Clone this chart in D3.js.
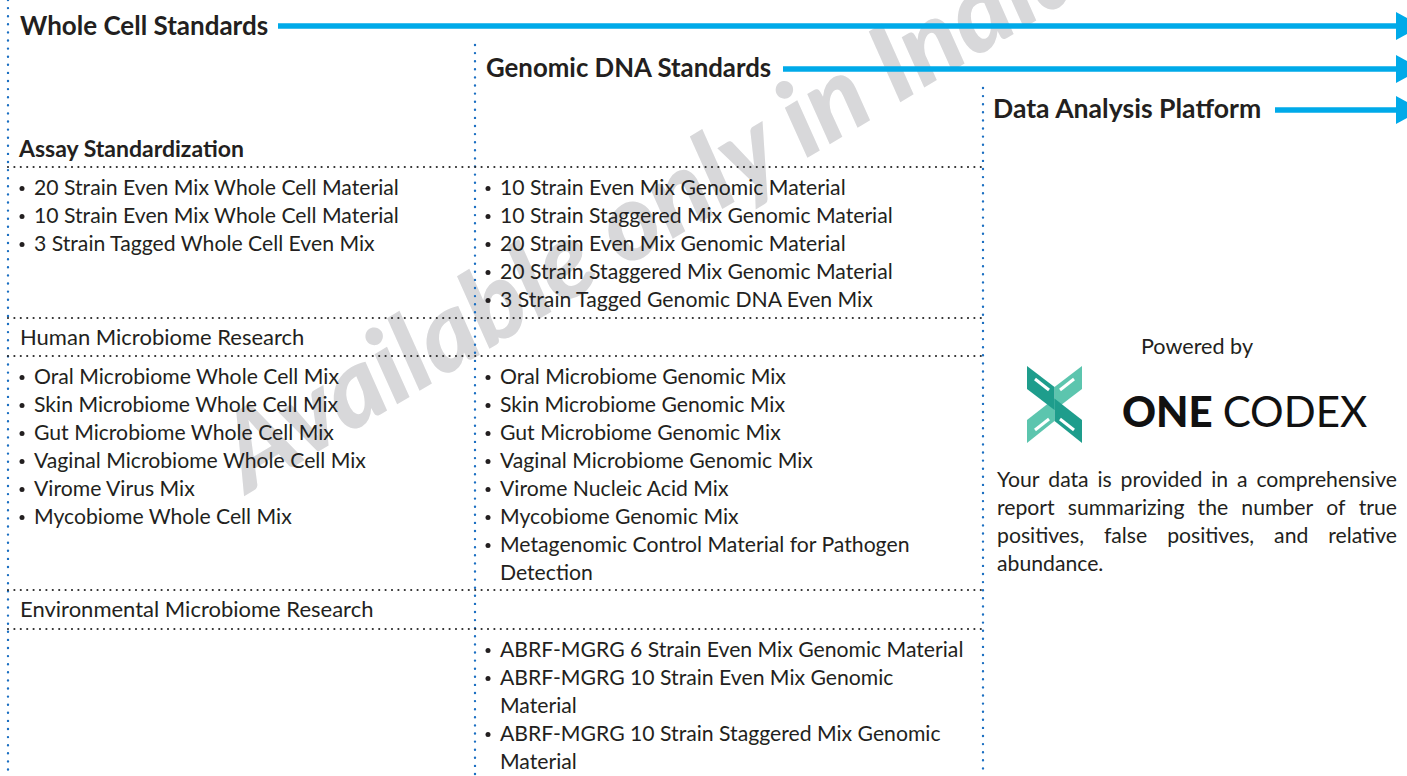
<!DOCTYPE html>
<html>
<head>
<meta charset="utf-8">
<script src="https://cdn.jsdelivr.net/npm/d3@7"></script>
<style>
  html, body { margin: 0; padding: 0; background: #fff; }
  svg { display: block; }
  text { font-family: Lato, "Noto Sans", sans-serif; }
</style>
</head>
<body>
<svg id="chart" width="1407" height="776"></svg>
<script>
// ---------- data ----------
const stageTitles = ["Whole Cell Standards", "Genomic DNA Standards", "Data Analysis Platform"];
const sectionTitles = ["Assay Standardization", "Human Microbiome Research", "Environmental Microbiome Research"];
const wholeCellAssay = ["20 Strain Even Mix Whole Cell Material", "10 Strain Even Mix Whole Cell Material", "3 Strain Tagged Whole Cell Even Mix"];
const genomicAssay = ["10 Strain Even Mix Genomic Material", "10 Strain Staggered Mix Genomic Material", "20 Strain Even Mix Genomic Material", "20 Strain Staggered Mix Genomic Material", "3 Strain Tagged Genomic DNA Even Mix"];
const wholeCellHuman = ["Oral Microbiome Whole Cell Mix", "Skin Microbiome Whole Cell Mix", "Gut Microbiome Whole Cell Mix", "Vaginal Microbiome Whole Cell Mix", "Virome Virus Mix", "Mycobiome Whole Cell Mix"];
const genomicHuman = [["Oral Microbiome Genomic Mix"], ["Skin Microbiome Genomic Mix"], ["Gut Microbiome Genomic Mix"], ["Vaginal Microbiome Genomic Mix"], ["Virome Nucleic Acid Mix"], ["Mycobiome Genomic Mix"], ["Metagenomic Control Material for Pathogen", "Detection"]];
const wholeCellEnv = [];
const genomicEnv = [["ABRF-MGRG 6 Strain Even Mix Genomic Material"], ["ABRF-MGRG 10 Strain Even Mix Genomic", "Material"], ["ABRF-MGRG 10 Strain Staggered Mix Genomic", "Material"]];
const poweredBy = "Powered by";
const logoWords = ["ONE", "CODEX"];
const reportLines = ["Your data is provided in a comprehensive", "report summarizing  the number of true", "positives, false positives, and relative", "abundance."];
const watermark = "Available only in India";

// ---------- layout ----------
const W = 1407, H = 776;
const svg = d3.select("#chart");
const colX = [8, 475, 983];
const stageY = [26, 69, 110];
const stageTop = [0, 45, 88];
const arrowStart = [278, 783, 1275];
const blue = "#00aae9";
const lineStep = 28;
const textColor = "#231f20";
const itemSize = 21.2;

// watermark (behind everything)
svg.append("text")
  .attr("transform", "translate(248,494) rotate(-31)")
  .attr("font-size", 106).attr("font-weight", 900).attr("font-style", "italic")
  .attr("fill", "#d8d8da")
  .text(watermark);

// vertical dotted blue lines
svg.selectAll("line.v").data(colX).join("line")
  .attr("x1", d => d).attr("x2", d => d)
  .attr("y1", (d, i) => stageTop[i]).attr("y2", H)
  .attr("stroke", "#1b6fc2").attr("stroke-width", 2.4)
  .attr("stroke-linecap", "round").attr("stroke-dasharray", "0,8.1");

// horizontal dotted dark lines
const hY = [167, 318, 356, 590, 629];
svg.selectAll("line.h").data(hY).join("line")
  .attr("x1", colX[0]).attr("x2", colX[2])
  .attr("y1", d => d).attr("y2", d => d)
  .attr("stroke", "#2a2a2a").attr("stroke-width", 2.2)
  .attr("stroke-linecap", "round").attr("stroke-dasharray", "0,6.4");

// stage titles and arrows
const titleX = [20, 486, 993];
const titleBase = [35, 77, 118];
const titleSize = [26, 25.8, 26.6];
stageTitles.forEach((t, i) => {
  svg.append("text").attr("x", titleX[i]).attr("y", titleBase[i])
    .attr("font-size", titleSize[i]).attr("font-weight", 700).attr("fill", textColor).text(t);
  svg.append("line").attr("x1", arrowStart[i]).attr("x2", 1400)
    .attr("y1", stageY[i]).attr("y2", stageY[i])
    .attr("stroke", blue).attr("stroke-width", 5.5);
  const y = stageY[i];
  svg.append("path").attr("d", `M1396,${y - 14} L1422,${y} L1396,${y + 14} Z`).attr("fill", blue);
});

// section headers
svg.append("text").attr("x", 19).attr("y", 157).attr("font-size", 23).attr("font-weight", 700)
  .attr("fill", textColor).text(sectionTitles[0]);
svg.append("text").attr("x", 20).attr("y", 345).attr("font-size", 22)
  .attr("fill", textColor).text(sectionTitles[1]);
svg.append("text").attr("x", 20).attr("y", 617).attr("font-size", 22)
  .attr("fill", textColor).text(sectionTitles[2]);

// bullet lists
function bulletList(items, x, y0) {
  const y = d3.scaleLinear().domain([0, 1]).range([y0, y0 + lineStep]);
  let line = 0;
  items.forEach(it => {
    const lines = Array.isArray(it) ? it : [it];
    svg.append("circle").attr("cx", x + 3).attr("cy", y(line) - 6.5).attr("r", 2.5).attr("fill", textColor);
    lines.forEach(l => {
      svg.append("text").attr("x", x + 15).attr("y", y(line))
        .attr("font-size", itemSize).attr("fill", textColor).text(l);
      line++;
    });
  });
}
bulletList(wholeCellAssay, 19, 195);
bulletList(genomicAssay, 485, 195);
bulletList(wholeCellHuman, 19, 384);
bulletList(genomicHuman, 485, 384);
bulletList(wholeCellEnv, 19, 657);
bulletList(genomicEnv, 485, 657);

// right column: powered by + logo
svg.append("text").attr("x", 1197).attr("y", 354).attr("text-anchor", "middle")
  .attr("font-size", 21.6).attr("fill", textColor).text(poweredBy);

const logo = svg.append("g").attr("transform", "translate(1027,366)");
const dark = "#1e9d8c", light = "#5cc5ae";
const lw = 55, lh = 77, mx = lw / 2;
const bands = [
  { p: [[0, lh - 23], [0, lh], [mx, lh - 22], [mx, lh / 2 - 6]], c: light },
  { p: [[lw, 0], [lw, 23], [mx, 44], [mx, 21]], c: light },
  { p: [[0, 0], [0, 23], [mx, 44], [mx, 21]], c: dark },
  { p: [[lw, lh - 23], [lw, lh], [mx, lh - 22], [mx, lh / 2 - 6]], c: dark }
];
logo.selectAll("path").data(bands).join("path")
  .attr("d", d => "M" + d.p.map(q => q.join(",")).join("L") + "Z").attr("fill", d => d.c);
const inner = [[8, 13, 22, 24], [47, 13, 33, 24], [8, 64, 22, 53], [47, 64, 33, 53]];
logo.selectAll("line").data(inner).join("line")
  .attr("x1", d => d[0]).attr("y1", d => d[1]).attr("x2", d => d[2]).attr("y2", d => d[3])
  .attr("stroke", "#fff").attr("stroke-width", 3);

const lt = svg.append("text").attr("x", 1122).attr("y", 427).attr("font-size", 42).attr("fill", "#111");
lt.append("tspan").attr("font-weight", 900).text(logoWords[0] + " ");
lt.append("tspan").attr("font-weight", 400).text(logoWords[1]);

// justified paragraph
const pLeft = 997, pRight = 1397;
reportLines.forEach((ln, i) => {
  const y = 487 + i * lineStep;
  const words = ln.split(/\s+/);
  const g = svg.append("g");
  const nodes = words.map(w => g.append("text").attr("y", y).attr("font-size", itemSize).attr("fill", textColor).text(w));
  const widths = nodes.map(n => n.node().getComputedTextLength());
  const last = i === reportLines.length - 1;
  const total = d3.sum(widths);
  const gap = last ? 5.5 : (pRight - pLeft - total) / (words.length - 1);
  let x = pLeft;
  nodes.forEach((n, k) => { n.attr("x", x); x += widths[k] + gap; });
});
</script>
</body>
</html>
